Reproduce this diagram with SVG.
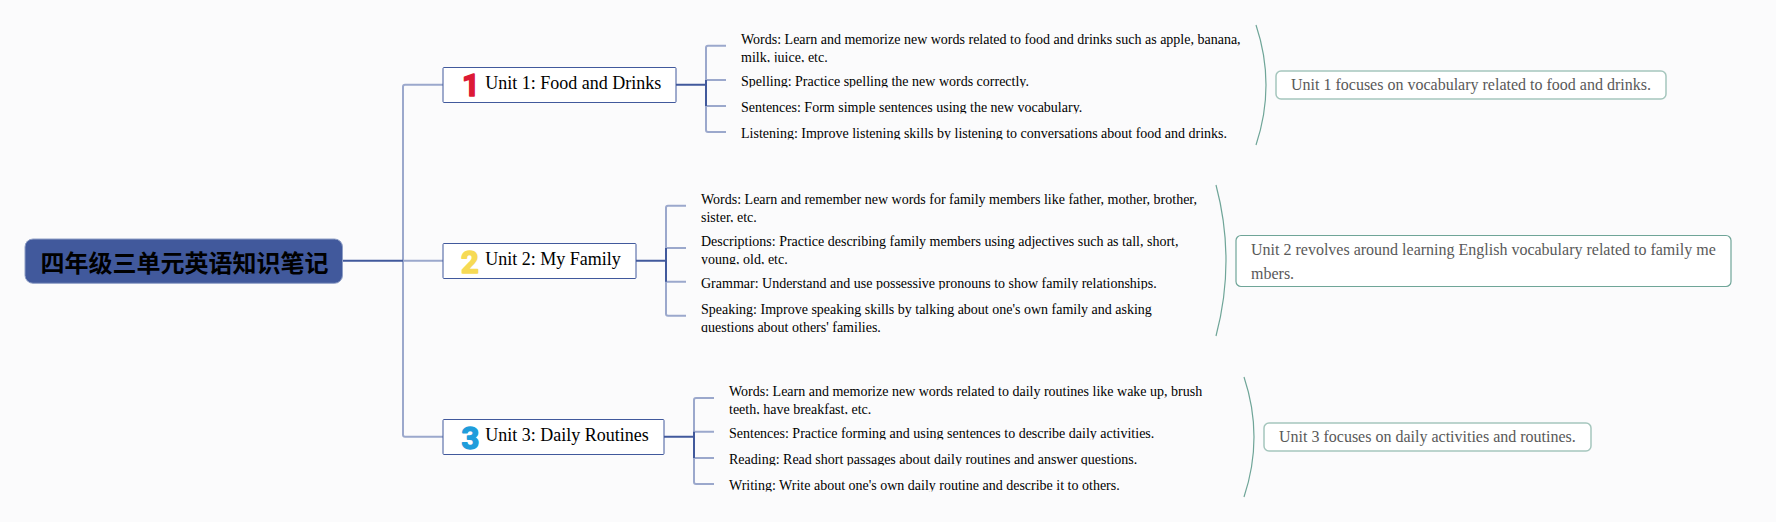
<svg xmlns="http://www.w3.org/2000/svg" width="1776" height="522" viewBox="0 0 1776 522">
<style>
.c{fill:none;stroke-linejoin:round}
.l{stroke:#9ba8cc;stroke-width:2}
.d{stroke:#41599c;stroke-width:2}
.a{stroke:#6fa598;stroke-width:1.2}
.u{fill:#fff;stroke:#41599c;stroke-width:1}
.n{fill:#fff;stroke:#a5c6bd;stroke-width:1.5}
.ut{font:18px "Liberation Serif",serif;fill:#000}
.t{font:14px "Liberation Serif",serif;fill:#000}
.nt{font:16px "Liberation Serif",serif;fill:#595959}
.ic{font:700 31px Roboto,sans-serif;text-anchor:middle;stroke-width:1.5;stroke-linejoin:round}
</style>
<defs>
<clipPath id="a1"><rect x="735" y="28" width="520" height="34.300"/></clipPath>
<clipPath id="a2"><rect x="735" y="72" width="520" height="15.5"/></clipPath>
<clipPath id="a3"><rect x="735" y="98" width="520" height="15.5"/></clipPath>
<clipPath id="a4"><rect x="735" y="124" width="520" height="15.5"/></clipPath>
<clipPath id="b1"><rect x="695" y="190" width="520" height="32.300"/></clipPath>
<clipPath id="b2"><rect x="695" y="232" width="520" height="32.300"/></clipPath>
<clipPath id="b3"><rect x="695" y="274" width="520" height="15.5"/></clipPath>
<clipPath id="b4"><rect x="695" y="300" width="520" height="32.300"/></clipPath>
<clipPath id="c1"><rect x="723" y="382" width="520" height="32.300"/></clipPath>
<clipPath id="c2"><rect x="723" y="424" width="520" height="15.5"/></clipPath>
<clipPath id="c3"><rect x="723" y="450" width="520" height="15.5"/></clipPath>
<clipPath id="c4"><rect x="723" y="476" width="520" height="15.5"/></clipPath>
</defs>
<rect width="1776" height="522" fill="#fbfbfc"/>
<g id="connectors">
<path class="c l" d="M443 84.7H405Q403 84.7 403 86.7V434.7Q403 436.7 405 436.7H443M403 260.7H443"/>
<path class="c d" d="M342 260.7H403"/>
<path class="c l" d="M726 45.7H708Q706 45.7 706 47.7V130Q706 132 708 132H726M706 80H726M706 106H726"/>
<path class="c d" d="M676 84.7H706M706 80V106"/>
<path class="c l" d="M686 205.7H668Q666 205.7 666 207.7V313.7Q666 315.7 668 315.7H686M666 248H686M666 281.7H686"/>
<path class="c d" d="M636 260.7H666M666 248V281.7"/>
<path class="c l" d="M714 398H696Q694 398 694 400V482Q694 484 696 484H714M694 431.7H714M694 458H714"/>
<path class="c d" d="M664 436.7H694M694 431.7V458"/>
<path class="c a" d="M1256 25Q1276 85 1256 145"/>
<path class="c a" d="M1216 185Q1236 260.5 1216 336"/>
<path class="c a" d="M1244 377Q1264 437 1244 497"/>
</g>
<g id="root">
<rect x="25" y="239" width="317.500" height="44.300" rx="8" fill="#41599c" stroke="#8f9fc6"/>
<text x="40.500" y="271.500" font-family="Noto Sans CJK SC,sans-serif" font-weight="700" font-size="24" fill="#000">四年级三单元英语知识笔记</text>
</g>
<g id="unit1">
<rect class="u" x="443" y="67.500" width="233" height="35" rx="1"/>
<text class="ic" x="471" y="95.500" fill="#dc1a35" stroke="#dc1a35">1</text>
<text class="ut" x="485.300" y="89">Unit 1: Food and Drinks</text>
</g>
<g id="unit2">
<rect class="u" x="443" y="243.500" width="193" height="35" rx="1"/>
<text class="ic" x="470" y="272.500" fill="#f6da55" stroke="#f6da55">2</text>
<text class="ut" x="485.300" y="265">Unit 2: My Family</text>
</g>
<g id="unit3">
<rect class="u" x="443" y="419.500" width="221" height="35" rx="1"/>
<text class="ic" x="470.500" y="448.500" fill="#1f9ddb" stroke="#1f9ddb">3</text>
<text class="ut" x="485.300" y="441">Unit 3: Daily Routines</text>
</g>
<g id="unit1-items">
<text class="t" clip-path="url(#a1)" x="741" y="44">Words: Learn and memorize new words related to food and drinks such as apple, banana,<tspan x="741" y="62">milk, juice, etc.</tspan></text>
<text class="t" clip-path="url(#a2)" x="741" y="86">Spelling: Practice spelling the new words correctly.</text>
<text class="t" clip-path="url(#a3)" x="741" y="112">Sentences: Form simple sentences using the new vocabulary.</text>
<text class="t" clip-path="url(#a4)" x="741" y="138">Listening: Improve listening skills by listening to conversations about food and drinks.</text>
</g>
<g id="unit2-items">
<text class="t" clip-path="url(#b1)" x="701" y="204">Words: Learn and remember new words for family members like father, mother, brother,<tspan x="701" y="222">sister, etc.</tspan></text>
<text class="t" clip-path="url(#b2)" x="701" y="246">Descriptions: Practice describing family members using adjectives such as tall, short,<tspan x="701" y="264">young, old, etc.</tspan></text>
<text class="t" clip-path="url(#b3)" x="701" y="288">Grammar: Understand and use possessive pronouns to show family relationships.</text>
<text class="t" clip-path="url(#b4)" x="701" y="314">Speaking: Improve speaking skills by talking about one's own family and asking<tspan x="701" y="332">questions about others' families.</tspan></text>
</g>
<g id="unit3-items">
<text class="t" clip-path="url(#c1)" x="729" y="396">Words: Learn and memorize new words related to daily routines like wake up, brush<tspan x="729" y="414">teeth, have breakfast, etc.</tspan></text>
<text class="t" clip-path="url(#c2)" x="729" y="438">Sentences: Practice forming and using sentences to describe daily activities.</text>
<text class="t" clip-path="url(#c3)" x="729" y="464">Reading: Read short passages about daily routines and answer questions.</text>
<text class="t" clip-path="url(#c4)" x="729" y="490">Writing: Write about one's own daily routine and describe it to others.</text>
</g>
<g id="note1">
<rect class="n" x="1276" y="71" width="390" height="28" rx="5"/>
<text class="nt" x="1291" y="90">Unit 1 focuses on vocabulary related to food and drinks.</text>
</g>
<g id="note2">
<rect class="n" x="1236" y="235.500" width="495" height="51" rx="5" style="stroke:#6fa598;stroke-width:1.2"/>
<text class="nt" x="1251" y="255">Unit 2 revolves around learning English vocabulary related to family me<tspan x="1251" y="279">mbers.</tspan></text>
</g>
<g id="note3">
<rect class="n" x="1264" y="423" width="327" height="28" rx="5"/>
<text class="nt" x="1279" y="442">Unit 3 focuses on daily activities and routines.</text>
</g>
</svg>
